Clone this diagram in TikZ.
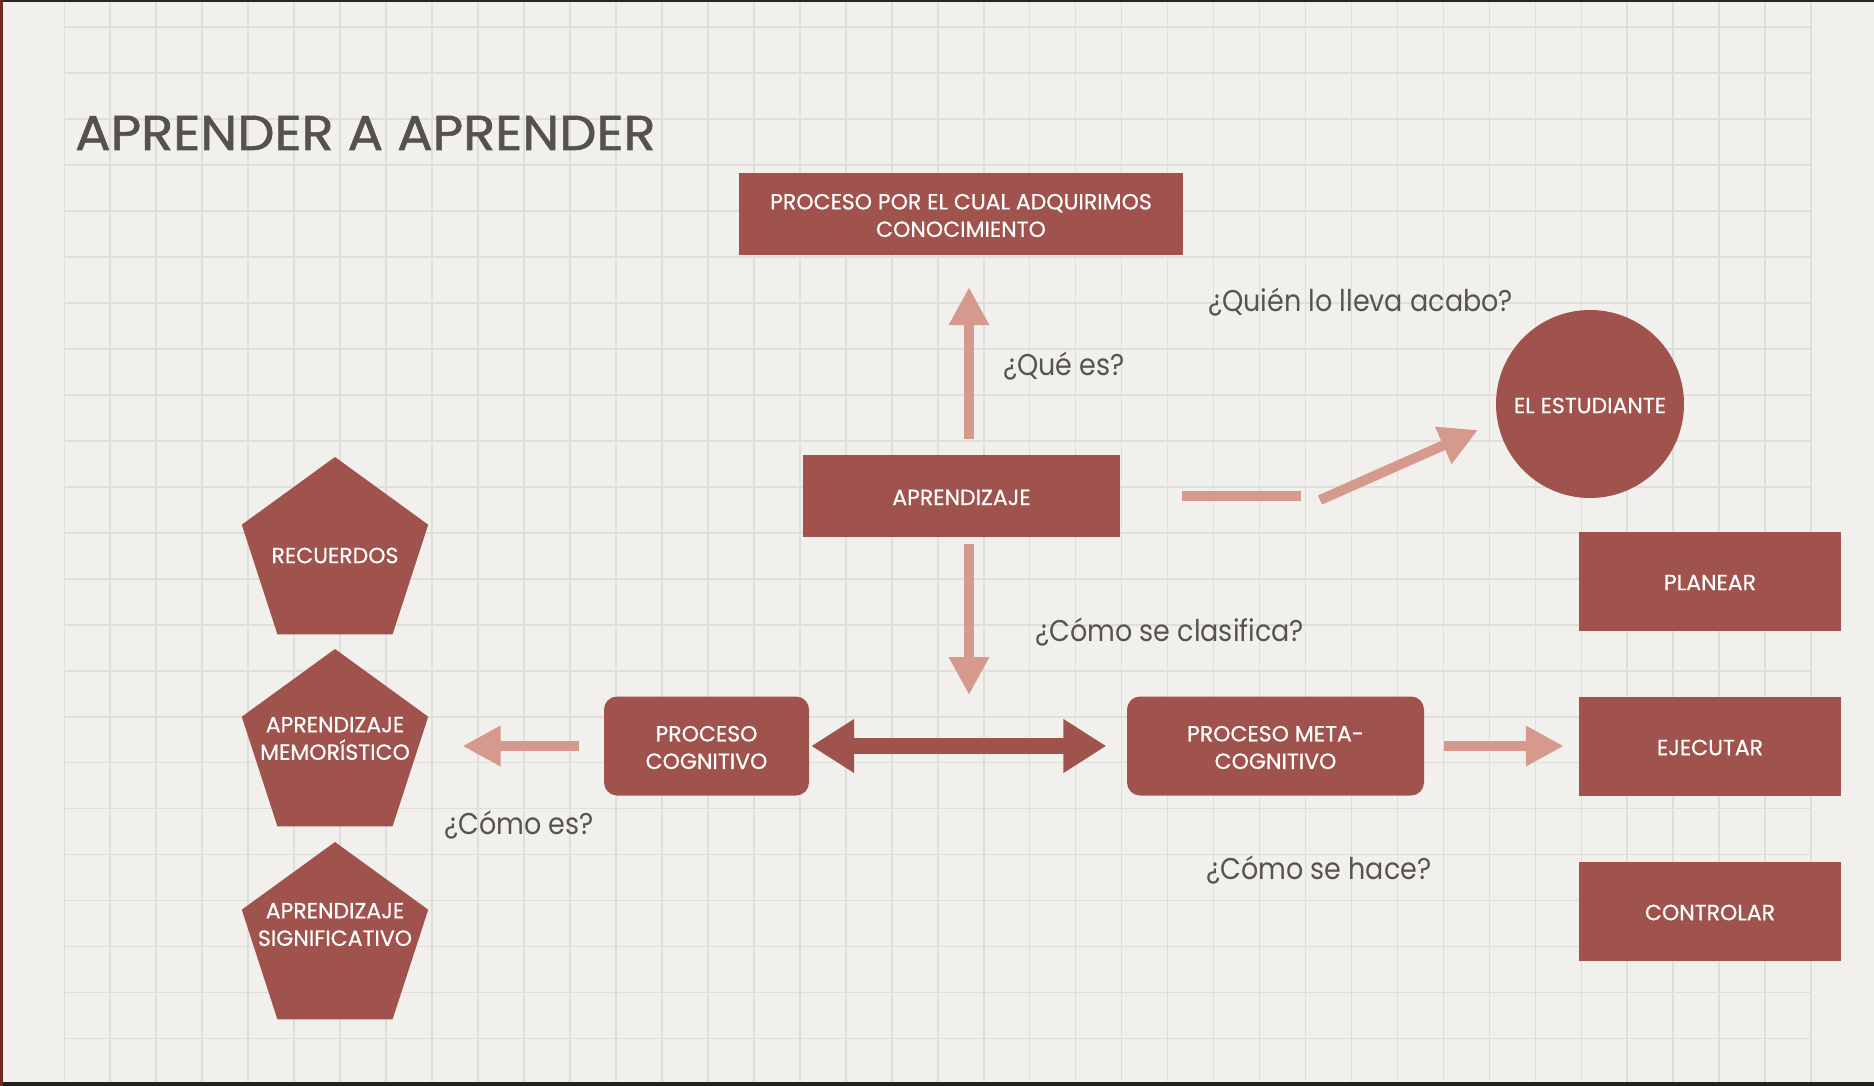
\documentclass[tikz,border=0pt]{standalone}
\usepackage{fontspec}
\setmainfont{Poppins}
\newfontfamily\titlefont[FakeStretch=1.075,FakeBold=1.2]{Poppins}
\newfontfamily\boxfont[FakeBold=0.5]{Poppins}
\newfontfamily\qfont[FakeStretch=0.9]{Poppins}
\usetikzlibrary{arrows.meta,shapes.geometric}
\definecolor{bg}{HTML}{F1F0EC}
\definecolor{gridc}{HTML}{DFDEDB}
\definecolor{boxc}{HTML}{A0534D}
\definecolor{lightarr}{HTML}{D5998E}
\definecolor{qtext}{HTML}{57544F}
\definecolor{titlec}{HTML}{55524E}
\definecolor{edgec}{HTML}{6E2B1F}
\begin{document}
\begin{tikzpicture}[x=1pt,y=-1pt,
  boxtext/.style={text=white, align=center, font=\boxfont\fontsize{22}{27.5}\selectfont},
  rbox/.style={fill=boxc, inner sep=0pt},
  inlabel/.style={label={[boxtext,yshift=-1.5pt]center:{#1}}},
  pent/.style={regular polygon, regular polygon sides=5, minimum size=196pt, inner sep=0pt, fill=boxc},
  qlabel/.style={anchor=base west, inner sep=0pt, text=qtext, font=\qfont\fontsize{30}{30}\selectfont},
  larrow/.style={draw=lightarr, line width=10pt, -{Triangle[length=38pt,width=38pt]}},
  lbar/.style={draw=lightarr, line width=10pt},
  dblarrow/.style={draw=boxc, line width=16.7pt, {Triangle[length=43pt,width=51pt]}-{Triangle[length=43pt,width=51pt]}}
]
\useasboundingbox (0,0) rectangle (1874,1086);
\fill[bg] (0,0) rectangle (1874,1086);
% grid
\foreach \i in {0,...,38} \draw[gridc, line width=1.6pt] ({64.3+45.97*\i},2) -- ({64.3+45.97*\i},1082);
\foreach \j in {0,...,22} \draw[gridc, line width=1.6pt] (64.3,{27.3+45.96*\j}) -- (1811,{27.3+45.96*\j});
% borders
\fill[black!85] (0,0) rectangle (1874,2);
\fill[black!87] (0,1082) rectangle (1874,1086);
\fill[edgec] (0,0) rectangle (2.5,1086);

% title
\node[anchor=base west, inner sep=0pt, text=titlec, font=\titlefont\fontsize{49}{49}\selectfont] (title) at (75,150) {APRENDER A APRENDER};

% boxes
\node[rbox, minimum width=444pt, minimum height=82pt, inlabel={PROCESO POR EL CUAL ADQUIRIMOS\\CONOCIMIENTO}] (def) at (961,214) {};
\node[rbox, minimum width=317pt, minimum height=82pt, inlabel={APRENDIZAJE}] (apr) at (961.5,496) {};
\node[rbox, circle, minimum size=188pt, inlabel={EL ESTUDIANTE}] (est) at (1590,404) {};
\node[rbox, minimum width=262pt, minimum height=99pt, inlabel={PLANEAR}] (plan) at (1710,581) {};
\node[rbox, minimum width=262pt, minimum height=99pt, inlabel={EJECUTAR}] (ejec) at (1710,746) {};
\node[rbox, minimum width=262pt, minimum height=99pt, inlabel={CONTROLAR}] (ctrl) at (1710,911) {};
\node[rbox, rounded corners=13pt, minimum width=205pt, minimum height=99pt, inlabel={PROCESO\\COGNITIVO}] (cog) at (706.5,746) {};
\node[rbox, rounded corners=13pt, minimum width=297pt, minimum height=99pt, inlabel={PROCESO META-\\COGNITIVO}] (meta) at (1275.5,746) {};

% pentagons
\node[pent] (rec) at (335,555) {};
\node[pent] (mem) at (335,747) {};
\node[pent] (sig) at (335,940) {};
\node[boxtext] (rect) at (335,555.5) {RECUERDOS};
\node[boxtext] (memt) at (335,738.5) {APRENDIZAJE\\MEMORÍSTICO};
\node[boxtext] (sigt) at (335,924.5) {APRENDIZAJE\\SIGNIFICATIVO};

% questions
\node[qlabel] (q1) at (1003,375) {¿Qué es?};
\node[qlabel] (q2) at (1208,311) {¿Quién lo lleva acabo?};
\node[qlabel] (q3) at (1035,641) {¿Cómo se clasifica?};
\node[qlabel] (q4) at (444,834) {¿Cómo es?};
\node[qlabel] (q5) at (1206,879) {¿Cómo se hace?};

% helper coordinates
\coordinate (split) at (969,695);
\coordinate (barA) at (1182,496);
\coordinate (barB) at (1301,496);
\coordinate (diagA) at (1320,500);
\coordinate (diagB) at (1478,430);
\coordinate (memR) at (462.5,746);

% arrows
\draw[larrow] ([xshift=7.5pt,yshift=16pt]apr.north) -- ([xshift=8pt,yshift=-32pt]def.south);
\draw[larrow] ([xshift=7.5pt,yshift=-7pt]apr.south) -- (split);
\draw[lbar] (barA) -- (barB);
\draw[larrow] (diagA) -- (diagB);
\draw[larrow] ([xshift=-24.5pt]cog.west) -- (memR);
\draw[larrow] ([xshift=20pt]meta.east) -- ([xshift=-15pt]ejec.west);
\draw[dblarrow] ([xshift=2pt]cog.east) -- ([xshift=-20.5pt]meta.west);
\end{tikzpicture}
\end{document}
